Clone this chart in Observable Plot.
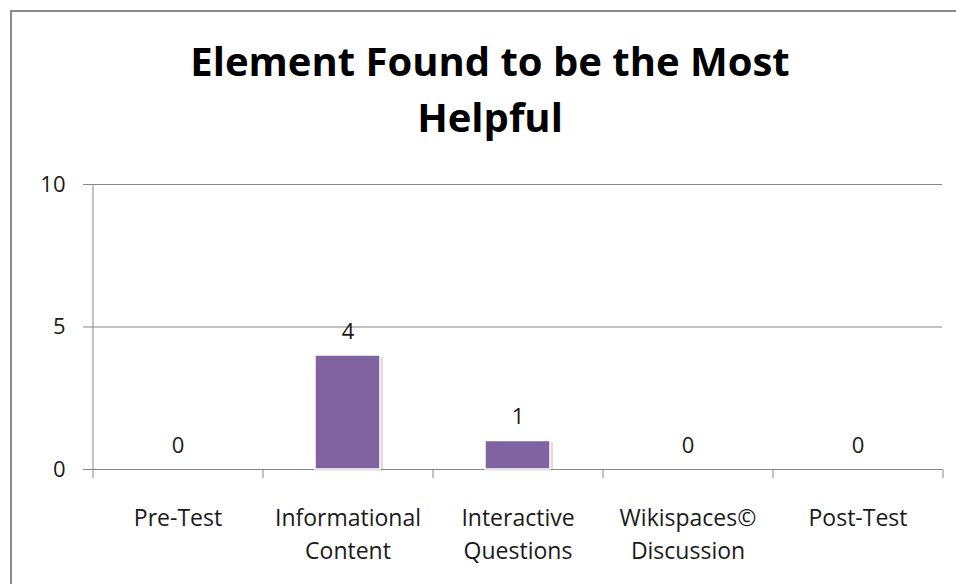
<!DOCTYPE html>
<html>
<head>
<meta charset="utf-8">
<script src="https://cdn.jsdelivr.net/npm/d3@7"></script>
<script src="https://cdn.jsdelivr.net/npm/@observablehq/plot@0.6"></script>
<style>
  html, body { margin: 0; padding: 0; background: #fff; }
  #page { position: relative; width: 956px; height: 584px; overflow: hidden; background: #fff; }
  #frame { position: absolute; left: 10px; top: 10px; width: 980px; height: 600px; border: 2px solid #8a8a8a; box-sizing: border-box; }
  #title { position: absolute; left: 12px; top: 33px; width: 956px; text-align: center;
           font-family: "Open Sans", sans-serif; font-weight: 700; font-size: 40px; line-height: 55.6px; color: #000; }
  #chart { position: absolute; left: 0; top: 150px; }
</style>
</head>
<body>
<div id="page">
  <div id="frame"></div>
  <div id="title">Element Found to be the Most<br>Helpful</div>
  <div id="chart"></div>
</div>
<script>
const categories = ["Pre-Test", "Informational\nContent", "Interactive\nQuestions", "Wikispaces©\nDiscussion", "Post-Test"];
const values = [0, 4, 1, 0, 0];
const yTicks = [0, 5, 10];

const data = categories.map((c, i) => ({category: c, value: values[i]}));
const font = "'Open Sans', sans-serif";
const textColor = "#1a1a1a";
const gridColor = "#878787";
const half = 85; // half of the category step

const chart = Plot.plot({
  width: 956,
  height: 420,
  marginLeft: 92,
  marginRight: 14,
  marginTop: 34,
  marginBottom: 101,
  style: {fontFamily: font, background: "transparent", overflow: "visible"},
  x: {domain: categories, paddingInner: 0.618, paddingOuter: 0.309, axis: null},
  y: {domain: [0, 10], axis: null},
  marks: [
    Plot.ruleY(yTicks, {y: d => d, stroke: gridColor, strokeWidth: 1, insetLeft: -9}),
    Plot.ruleX([categories[0]], {x: d => d, dx: -half, stroke: gridColor}),
    Plot.ruleX(categories, {x: d => d, dx: -half, y1: 0, y2: 0, insetBottom: -9, stroke: gridColor}),
    Plot.ruleX([categories[categories.length - 1]], {x: d => d, dx: half, y1: 0, y2: 0, insetBottom: -9, stroke: gridColor}),
    Plot.barY(data, {x: "category", y: "value", filter: d => d.value > 0, fill: "#9a9a9a", fillOpacity: 0.35, dx: 1.5, dy: 1.5, insetLeft: -1.5, insetRight: -1.5}),
    Plot.barY(data, {x: "category", y: "value", filter: d => d.value > 0, fill: "#8064A2", stroke: "#ffffff", strokeWidth: 1.5}),
    Plot.text(data, {x: "category", y: "value", text: d => String(d.value), lineAnchor: "bottom", dy: -17, fontSize: 22, fill: textColor}),
    Plot.text(yTicks, {y: d => d, text: d => String(d), frameAnchor: "left", dx: -27, textAnchor: "end", lineAnchor: "middle", fontSize: 22, fill: textColor}),
    Plot.text(categories, {x: d => d, text: d => d, frameAnchor: "bottom", dy: 34, lineAnchor: "top", lineHeight: 1.4, fontSize: 23, fill: textColor})
  ]
});
document.getElementById("chart").appendChild(chart);
</script>
</body>
</html>
